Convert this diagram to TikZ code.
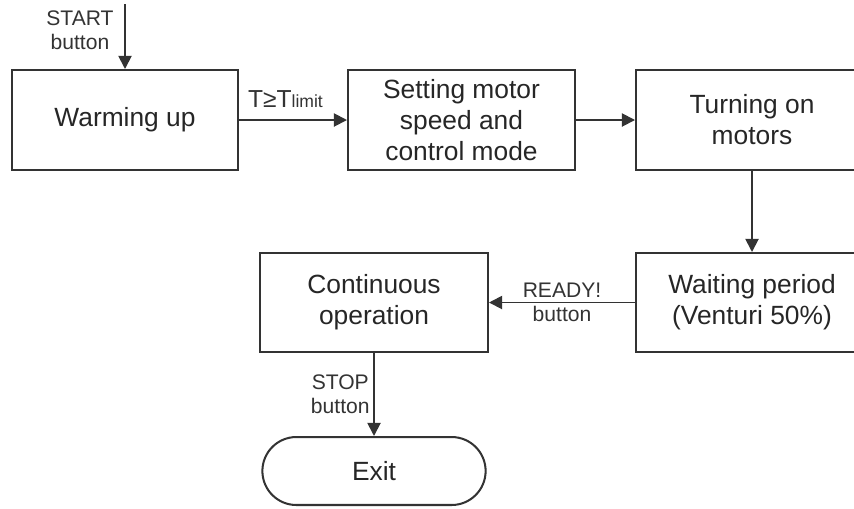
\documentclass[tikz,border=0pt]{standalone}
\usepackage{fontspec}
\setmainfont{Liberation Sans}
\usetikzlibrary{arrows.meta,shapes.misc}
\def\boxnode{\node[draw=black!80,line width=1.15pt,minimum height=2cm,align=center,text=black!85,font=\fontsize{15}{17.6}\selectfont]}
\tikzset{lbl/.style={align=center,text=black!80,font=\fontsize{12}{13.4}\selectfont},
  arr/.style={draw=black!80,line width=1.05pt,-{Triangle[length=7.5pt,width=7.5pt]}}}

\begin{document}
\begin{tikzpicture}[x=0.02cm,y=-0.02cm]
\useasboundingbox (0,0) rectangle (854,508);
\coordinate (start) at (125,4);
\boxnode[minimum width=4.52cm] (warm) at (125,120) {Warming up};
\boxnode[minimum width=4.54cm] (set) at (461.5,120) {Setting motor\\speed and\\control mode};
\boxnode[minimum width=4.64cm] (turn) at (752,120) {Turning on\\motors};
\boxnode[minimum width=4.64cm,minimum height=1.98cm] (wait) at (752,302.5) {Waiting period\\(Venturi 50\%)};
\boxnode[minimum width=4.56cm,minimum height=1.98cm] (cont) at (374,302.5) {Continuous\\operation};
\boxnode[shape=rounded rectangle,minimum width=4.7cm,minimum height=1.36cm] (exit) at (374,471) {Exit};
\draw[arr] (start) -- (warm);
\node[lbl] at (80,30) {START\\button};
\draw[arr] (warm) -- node[lbl,above,inner sep=0pt,yshift=6.5pt,xshift=-4.3pt]
  {{\fontsize{14}{16}\selectfont T≥T}{\fontsize{10}{12}\selectfont limit}} (set);
\draw[arr] (set) -- (turn);
\draw[arr] (turn) -- (wait);
\draw[arr] (wait) -- node[lbl] {READY!\\button} (cont);
\draw[arr] (cont) -- node[lbl,left,inner sep=2pt] {STOP\\button} (exit);
\end{tikzpicture}
\end{document}
